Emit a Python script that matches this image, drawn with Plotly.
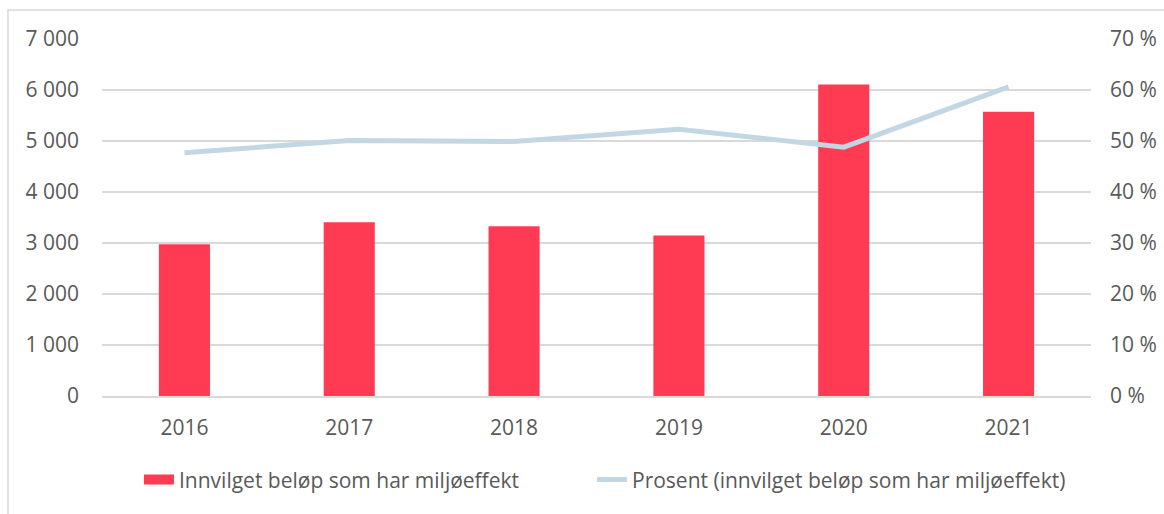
import plotly.graph_objects as go

years = ["2016", "2017", "2018", "2019", "2020", "2021"]
amount = [2975, 3405, 3327, 3145, 6110, 5575]
percent = [47.7, 50.1, 49.9, 52.3, 48.8, 60.6]
left_ticks = [0, 1000, 2000, 3000, 4000, 5000, 6000, 7000]
right_ticks = [0, 10, 20, 30, 40, 50, 60, 70]
right_labels = [f"{v} %" for v in right_ticks]
bar_name = "Innvilget beløp som har miljøeffekt"
line_name = "Prosent (innvilget beløp som har miljøeffekt)"

FONT = "Open Sans"
TXT = "#595959"
SIZE = 21
RED = "#FF3B53"
BLUE = "#C2D7E3"

PX0, PW = 102, 989  # plot area left / width in px

fig = go.Figure()
fig.add_trace(go.Bar(x=years, y=amount, name=bar_name, showlegend=False,
                     marker=dict(color=RED, line=dict(width=0))))
# legend-only entry giving a wide swatch like the original
fig.add_trace(go.Scatter(x=[None], y=[None], mode="lines", name=bar_name,
                         legend="legend", line=dict(color=RED, width=13)))
fig.add_trace(go.Scatter(x=years, y=percent, yaxis="y2", mode="lines",
                         name=line_name, legend="legend2",
                         line=dict(color=BLUE, width=5)))

leg_common = dict(orientation="h", xanchor="left", y=-0.235, yanchor="middle",
                  font=dict(size=SIZE, color=TXT), bgcolor="rgba(0,0,0,0)")

fig.update_layout(
    width=1164, height=514,
    margin=dict(l=PX0, r=73, t=39, b=118),
    paper_bgcolor="white", plot_bgcolor="white",
    separators=", ",
    font=dict(family=FONT, size=SIZE, color=TXT),
    bargap=0.69,
    showlegend=True,
    legend=dict(x=(139 - PX0) / PW, **leg_common),
    legend2=dict(x=(592 - PX0) / PW, **leg_common),
    xaxis=dict(showgrid=False, showline=True, linecolor="#D9D9D9", linewidth=1.5,
               ticks="", ticklabelstandoff=12, automargin=False,
               tickfont=dict(size=SIZE, color=TXT)),
    yaxis=dict(range=[0, 7000], tickvals=left_ticks, tickformat=",d",
               showgrid=True, gridcolor="#D9D9D9", gridwidth=1.5, zeroline=False,
               showline=False, ticks="", ticklabelstandoff=22, automargin=False,
               tickfont=dict(size=SIZE, color=TXT)),
    yaxis2=dict(range=[0, 70], overlaying="y", side="right", tickvals=right_ticks,
                ticktext=right_labels, showgrid=False, zeroline=False, showline=False,
                ticks="", ticklabelstandoff=18, automargin=False,
                tickfont=dict(size=SIZE, color=TXT)),
    shapes=[dict(type="rect", xref="paper", yref="paper",
                 x0=(8 - PX0) / PW, x1=1.3, y0=-0.6, y1=(396 - 10) / 357,
                 line=dict(color="#D9D9D9", width=1.5), fillcolor="rgba(0,0,0,0)",
                 layer="below")],
)

fig.write_html("out.html", config={"displayModeBar": False},
               post_script="document.body.style.margin='0';")
